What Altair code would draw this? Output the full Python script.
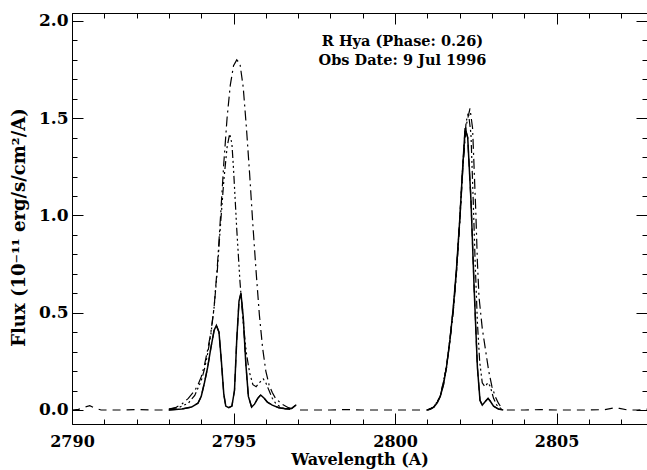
import altair as alt
import pandas as pd

# ---- observed spectrum continuum pieces (dashed) ----
obs_left_wl = [2790.0, 2790.2, 2790.4, 2790.55, 2790.7, 2790.9, 2791.5, 2792.0, 2792.5]
obs_left_fx = [0.0, 0.003, 0.015, 0.022, 0.01, 0.0, 0.0, 0.002, 0.0]
obs_mid_wl = [2797.05, 2797.5, 2798.0, 2798.5, 2799.0, 2799.5, 2800.0, 2800.5, 2800.9]
obs_mid_fx = [0.0, 0.0, 0.0, 0.002, 0.0, 0.0, 0.0, 0.0, 0.0]
obs_right_wl = [2803.5, 2804.0, 2804.5, 2805.0, 2805.5, 2806.0, 2806.5, 2806.8, 2806.95, 2807.2, 2807.5, 2807.8]
obs_right_fx = [0.0, 0.0, 0.002, 0.0, 0.0, 0.0, 0.002, 0.012, 0.008, 0.0, 0.0, 0.004]

# ---- solid profile (k and h lines) ----
solid_k_wl = [2793.0, 2793.4, 2793.7, 2793.9, 2794.0, 2794.1, 2794.2, 2794.3, 2794.4, 2794.47,
              2794.55, 2794.62, 2794.7, 2794.76, 2794.85, 2794.95, 2795.03, 2795.1, 2795.17, 2795.23,
              2795.3, 2795.38, 2795.46, 2795.56, 2795.65, 2795.75, 2795.84, 2795.95, 2796.05, 2796.2,
              2796.4, 2796.6, 2796.8, 2796.93]
solid_k_fx = [0.0, 0.005, 0.015, 0.035, 0.07, 0.14, 0.22, 0.32, 0.41, 0.435,
              0.40, 0.26, 0.08, 0.02, 0.012, 0.02, 0.10, 0.36, 0.56, 0.60,
              0.48, 0.24, 0.07, 0.015, 0.03, 0.06, 0.077, 0.06, 0.04, 0.025,
              0.012, 0.006, 0.008, 0.025]
solid_h_wl = [2801.0, 2801.1, 2801.2, 2801.3, 2801.4, 2801.5, 2801.6, 2801.7, 2801.8, 2801.9,
              2802.0, 2802.1, 2802.17, 2802.25, 2802.35, 2802.45, 2802.55, 2802.63, 2802.7, 2802.8,
              2802.88, 2802.95, 2803.05, 2803.2, 2803.35]
solid_h_fx = [0.0, 0.005, 0.015, 0.035, 0.07, 0.13, 0.23, 0.36, 0.52, 0.72,
              0.97, 1.26, 1.45, 1.40, 1.08, 0.62, 0.22, 0.05, 0.025, 0.045,
              0.06, 0.045, 0.02, 0.005, 0.0]

# ---- dash-dot profile ----
dd_k_wl = [2793.0, 2793.2, 2793.4, 2793.6, 2793.8, 2793.9, 2794.0, 2794.1, 2794.2, 2794.3,
           2794.4, 2794.5, 2794.6, 2794.7, 2794.8, 2794.9, 2795.0, 2795.1, 2795.2, 2795.3,
           2795.4, 2795.5, 2795.6, 2795.7, 2795.8, 2795.9, 2796.0, 2796.1, 2796.2, 2796.3,
           2796.5, 2796.7, 2796.9]
dd_k_fx = [0.005, 0.012, 0.03, 0.06, 0.10, 0.13, 0.17, 0.23, 0.31, 0.40,
           0.53, 0.74, 1.00, 1.27, 1.50, 1.67, 1.77, 1.80, 1.78, 1.66,
           1.45, 1.21, 0.95, 0.71, 0.49, 0.32, 0.20, 0.13, 0.09, 0.06,
           0.03, 0.012, 0.004]
dd_h_wl = [2801.0, 2801.2, 2801.4, 2801.6, 2801.8, 2801.9, 2802.0, 2802.1, 2802.2, 2802.32,
           2802.4, 2802.5, 2802.55, 2802.6, 2802.7, 2802.8, 2802.9, 2803.0, 2803.1, 2803.2, 2803.3]
dd_h_fx = [0.0, 0.015, 0.07, 0.22, 0.50, 0.70, 0.95, 1.24, 1.46, 1.55,
           1.45, 1.02, 0.76, 0.58, 0.42, 0.31, 0.20, 0.12, 0.07, 0.035, 0.01]

# ---- dash-dot-dot-dot profile ----
d3_k_wl = [2793.0, 2793.3, 2793.6, 2793.8, 2794.0, 2794.1, 2794.2, 2794.3, 2794.4, 2794.5,
           2794.6, 2794.7, 2794.8, 2794.88, 2794.95, 2795.0, 2795.1, 2795.2, 2795.3, 2795.4,
           2795.5, 2795.6, 2795.7, 2795.8, 2795.92, 2796.0, 2796.1, 2796.2, 2796.3, 2796.45,
           2796.6, 2796.8]
d3_k_fx = [0.004, 0.012, 0.035, 0.075, 0.15, 0.21, 0.29, 0.39, 0.53, 0.72,
           0.96, 1.18, 1.35, 1.42, 1.37, 1.24, 0.93, 0.66, 0.45, 0.29,
           0.19, 0.13, 0.12, 0.14, 0.16, 0.14, 0.10, 0.06, 0.035, 0.015,
           0.006, 0.002]
d3_h_wl = [2801.0, 2801.2, 2801.4, 2801.6, 2801.8, 2801.9, 2802.0, 2802.1, 2802.2, 2802.27,
           2802.35, 2802.42, 2802.48, 2802.55, 2802.62, 2802.7, 2802.78, 2802.88, 2802.95, 2803.05,
           2803.15, 2803.3]
d3_h_fx = [0.0, 0.015, 0.07, 0.23, 0.51, 0.71, 0.97, 1.27, 1.48, 1.53,
           1.42, 1.08, 0.76, 0.45, 0.25, 0.14, 0.12, 0.14, 0.12, 0.06,
           0.025, 0.005]

# ---- annotation ----
ann_wl = [2800.23, 2800.23]
ann_fx = [1.871, 1.774]
ann_text = ["R Hya (Phase: 0.26)", "Obs Date: 9 Jul 1996"]

x_major = [2790, 2795, 2800, 2805]
x_minor = list(range(2790, 2808))
y_major = [0.0, 0.5, 1.0, 1.5, 2.0]
y_minor = [round(i * 0.1, 1) for i in range(21)]

W, H = 575, 411
FONT = "DejaVu Serif"


def frame(parts):
    rows = []
    for seg, (xs, ys) in enumerate(parts):
        for a, b in zip(xs, ys):
            rows.append({"seg": seg, "wl": a, "flux": b})
    return pd.DataFrame(rows)


obs_df = frame([(obs_left_wl + solid_k_wl + obs_mid_wl + solid_h_wl + obs_right_wl,
                 obs_left_fx + solid_k_fx + obs_mid_fx + solid_h_fx + obs_right_fx)])
solid_df = frame([(solid_k_wl, solid_k_fx), (solid_h_wl, solid_h_fx)])
dd_df = frame([(dd_k_wl, dd_k_fx), (dd_h_wl, dd_h_fx)])
d3_df = frame([(d3_k_wl, d3_k_fx), (d3_h_wl, d3_h_fx)])
ann_df = pd.DataFrame({"wl": ann_wl, "flux": ann_fx, "label": ann_text})

xs = alt.Scale(domain=[2790, 2807.8], nice=False, zero=False)
ys = alt.Scale(domain=[-0.072, 2.041], nice=False, zero=False)


def tick_axis(orient, offset, values, size, domain=False):
    return alt.Axis(orient=orient, offset=offset, values=values, tickSize=size,
                    ticks=True, labels=False, domain=domain, grid=False, title="")


main_x = alt.Axis(orient="bottom", values=x_major, format="d", ticks=False, domain=True,
                  grid=False, labelPadding=9, labelFlush=False, labelOverlap=False,
                  title="Wavelength (A)", titlePadding=2)
main_y = alt.Axis(orient="left", values=y_major, format=".1f", ticks=False, domain=True,
                  grid=False, labelPadding=4, labelFlush=False, labelOverlap=False,
                  labelFontSize=17,
                  title="Flux (10⁻¹¹ erg/s/cm²/A)", titlePadding=10, titleFontSize=18,
                  titleY=214)

obs = alt.Chart(obs_df).mark_line(color="black", strokeWidth=1.2, strokeDash=[8, 6], clip=True).encode(
    x=alt.X("wl:Q", scale=xs, axis=main_x),
    y=alt.Y("flux:Q", scale=ys, axis=main_y),
    detail="seg:N",
)

dd = alt.Chart(dd_df).mark_line(color="black", strokeWidth=1.2, strokeDash=[10, 4, 2, 4], clip=True).encode(
    x=alt.X("wl:Q", scale=xs, axis=tick_axis("top", -H, x_major, 11)),
    y=alt.Y("flux:Q", scale=ys, axis=tick_axis("right", -W, y_major, 11)),
    detail="seg:N",
)

d3 = alt.Chart(d3_df).mark_line(color="black", strokeWidth=1.2,
                                strokeDash=[8, 3, 2, 3, 2, 3, 2, 3], clip=True).encode(
    x=alt.X("wl:Q", scale=xs, axis=tick_axis("top", -H, x_minor, 5)),
    y=alt.Y("flux:Q", scale=ys, axis=tick_axis("right", -W, y_minor, 5)),
    detail="seg:N",
)

solid = alt.Chart(solid_df).mark_line(color="black", strokeWidth=1.5, clip=True).encode(
    x=alt.X("wl:Q", scale=xs, axis=tick_axis("bottom", -H, x_major, 11, domain=True)),
    y=alt.Y("flux:Q", scale=ys, axis=tick_axis("left", -W, y_major, 11)),
    detail="seg:N",
)

ann = alt.Chart(ann_df).mark_text(font=FONT, fontSize=14.5, fontWeight="bold", align="center",
                                  baseline="alphabetic", color="black").encode(
    x=alt.X("wl:Q", scale=xs, axis=tick_axis("bottom", -H, x_minor, 5)),
    y=alt.Y("flux:Q", scale=ys, axis=tick_axis("left", -W, y_minor, 5)),
    text="label:N",
)

chart = alt.layer(obs, dd, d3, solid, ann).resolve_axis(
    x="independent", y="independent"
).properties(
    width=W, height=H,
    autosize=alt.AutoSizeParams(type="none"),
    padding={"left": 72, "top": 13, "right": 0, "bottom": 46},
    background="white",
).configure_axis(
    labelFont=FONT, labelFontWeight="bold", labelFontSize=16, labelColor="black",
    titleFont=FONT, titleFontWeight="bold", titleFontSize=16, titleColor="black",
    tickColor="black", tickWidth=1, domainColor="black", domainWidth=1,
).configure_view(strokeWidth=0)

chart.save("out.html", embed_options={"renderer": "svg", "actions": False})
